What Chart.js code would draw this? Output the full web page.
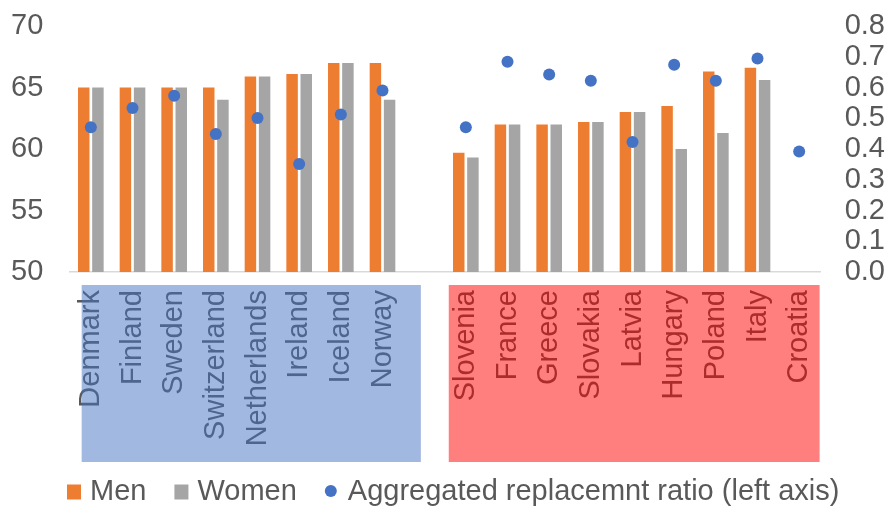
<!DOCTYPE html>
<html>
<head>
<meta charset="utf-8">
<script src="https://cdn.jsdelivr.net/npm/chart.js@4.4.0/dist/chart.umd.min.js"></script>
<style>
  html, body { margin: 0; padding: 0; background: #ffffff; }
  #wrap { width: 888px; height: 509px; position: relative; }
</style>
</head>
<body>
<div id="wrap"><canvas id="chart" width="888" height="509"></canvas></div>
<script>
// Retirement ages (left axis) and aggregated replacement ratio (right axis)
const categories = ['Denmark', 'Finland', 'Sweden', 'Switzerland', 'Netherlands', 'Ireland', 'Iceland', 'Norway', '',
  'Slovenia', 'France', 'Greece', 'Slovakia', 'Latvia', 'Hungary', 'Poland', 'Italy', 'Croatia'];
const men = [65, 65, 65, 65, 65.9, 66.1, 67, 67, null,
  59.7, 62, 62, 62.2, 63, 63.5, 66.3, 66.6, null];
const women = [65, 65, 65, 64, 65.9, 66.1, 67, 64, null,
  59.3, 62, 62, 62.2, 63, 60, 61.3, 65.6, null];
const ratio = [0.471, 0.533, 0.573, 0.449, 0.501, 0.351, 0.512, 0.590, null,
  0.471, 0.684, 0.642, 0.622, 0.423, 0.674, 0.622, 0.694, 0.392];
const leftTicks = [50, 55, 60, 65, 70];
const rightTicks = [0, 0.1, 0.2, 0.3, 0.4, 0.5, 0.6, 0.7, 0.8];
const legendLabels = ['Men', 'Women', 'Aggregated replacemnt ratio (left axis)'];

const ORANGE = '#ED7D31';
const GREY = '#A5A5A5';
const BLUE = '#4472C4';
const TEXT = '#595959';
const FONT = 'Liberation Sans, Arial, sans-serif';

// Tinted group panels laid over the country labels, plus a hand-drawn legend
const overlayPlugin = {
  id: 'overlay',
  afterDraw(chart) {
    const ctx = chart.ctx;
    const x = chart.scales.x;
    const area = chart.chartArea;
    const slot = x.getPixelForValue(1) - x.getPixelForValue(0);
    const top = area.bottom + 13;
    const bottom = area.bottom + 190;
    ctx.save();
    // Northern group
    const b0 = x.getPixelForValue(0) - 0.22 * slot;
    const b1 = x.getPixelForValue(7) + 0.92 * slot;
    ctx.fillStyle = 'rgba(68,114,196,0.5)';
    ctx.fillRect(b0, top, b1 - b0, bottom - top);
    // Southern / eastern group
    const r0 = x.getPixelForValue(9) - 0.41 * slot;
    const r1 = x.getPixelForValue(17) + 0.49 * slot;
    ctx.fillStyle = 'rgba(255,0,0,0.5)';
    ctx.fillRect(r0, top, r1 - r0, bottom - top);
    ctx.restore();

    // Legend
    ctx.save();
    ctx.font = '29px ' + FONT;
    ctx.textBaseline = 'middle';
    ctx.textAlign = 'left';
    const ly = 492;
    let lx = 67;
    const swatches = [ORANGE, GREY, BLUE];
    legendLabels.forEach((label, i) => {
      ctx.fillStyle = swatches[i];
      if (i < 2) {
        ctx.fillRect(lx, ly - 7.5, 14, 15);
        lx += 14 + 9;
      } else {
        ctx.beginPath();
        ctx.arc(lx + 6, ly - 1, 6, 0, Math.PI * 2);
        ctx.fill();
        lx += 12 + 11;
      }
      ctx.fillStyle = TEXT;
      ctx.fillText(label, lx, ly);
      lx += ctx.measureText(label).width + 28;
    });
    ctx.restore();
  }
};

new Chart(document.getElementById('chart'), {
  data: {
    labels: categories,
    datasets: [
      {
        type: 'line',
        label: legendLabels[2],
        data: ratio,
        yAxisID: 'y2',
        showLine: false,
        pointRadius: 6,
        pointHoverRadius: 6,
        pointBackgroundColor: BLUE,
        pointBorderWidth: 0,
        borderColor: BLUE,
        order: 0
      },
      {
        type: 'bar',
        label: legendLabels[0],
        data: men,
        yAxisID: 'y',
        backgroundColor: ORANGE,
        borderWidth: 0,
        categoryPercentage: 0.68,
        barPercentage: 0.81,
        order: 1
      },
      {
        type: 'bar',
        label: legendLabels[1],
        data: women,
        yAxisID: 'y',
        backgroundColor: GREY,
        borderWidth: 0,
        categoryPercentage: 0.68,
        barPercentage: 0.81,
        order: 1
      }
    ]
  },
  options: {
    responsive: false,
    animation: false,
    layout: { padding: { top: 26, bottom: 0, left: 11, right: 3 } },
    plugins: {
      legend: { display: false },
      tooltip: { enabled: false }
    },
    scales: {
      x: {
        type: 'category',
        offset: true,
        grid: { display: false, drawTicks: false },
        border: { display: true, color: '#D9D9D9', width: 1.5 },
        ticks: {
          autoSkip: false,
          minRotation: 90,
          maxRotation: 90,
          padding: 18,
          color: TEXT,
          font: { family: FONT, size: 29 }
        },
        afterFit(scale) { scale.height = 237; }
      },
      y: {
        position: 'left',
        min: 50,
        max: 70,
        afterBuildTicks(scale) { scale.ticks = leftTicks.map(v => ({ value: v })); },
        grid: { display: false, drawTicks: false },
        border: { display: false },
        ticks: {
          autoSkip: false,
          padding: 0,
          crossAlign: 'far',
          color: TEXT,
          font: { family: FONT, size: 29 },
          callback: v => String(v)
        },
        afterFit(scale) { scale.width = 59; }
      },
      y2: {
        position: 'right',
        min: 0,
        max: 0.8,
        afterBuildTicks(scale) { scale.ticks = rightTicks.map(v => ({ value: v })); },
        grid: { display: false, drawTicks: false },
        border: { display: false },
        ticks: {
          autoSkip: false,
          padding: 0,
          crossAlign: 'far',
          color: TEXT,
          font: { family: FONT, size: 29 },
          callback: v => Number(v).toFixed(1)
        },
        afterFit(scale) { scale.width = 65; }
      }
    }
  },
  plugins: [overlayPlugin]
});
</script>
</body>
</html>
